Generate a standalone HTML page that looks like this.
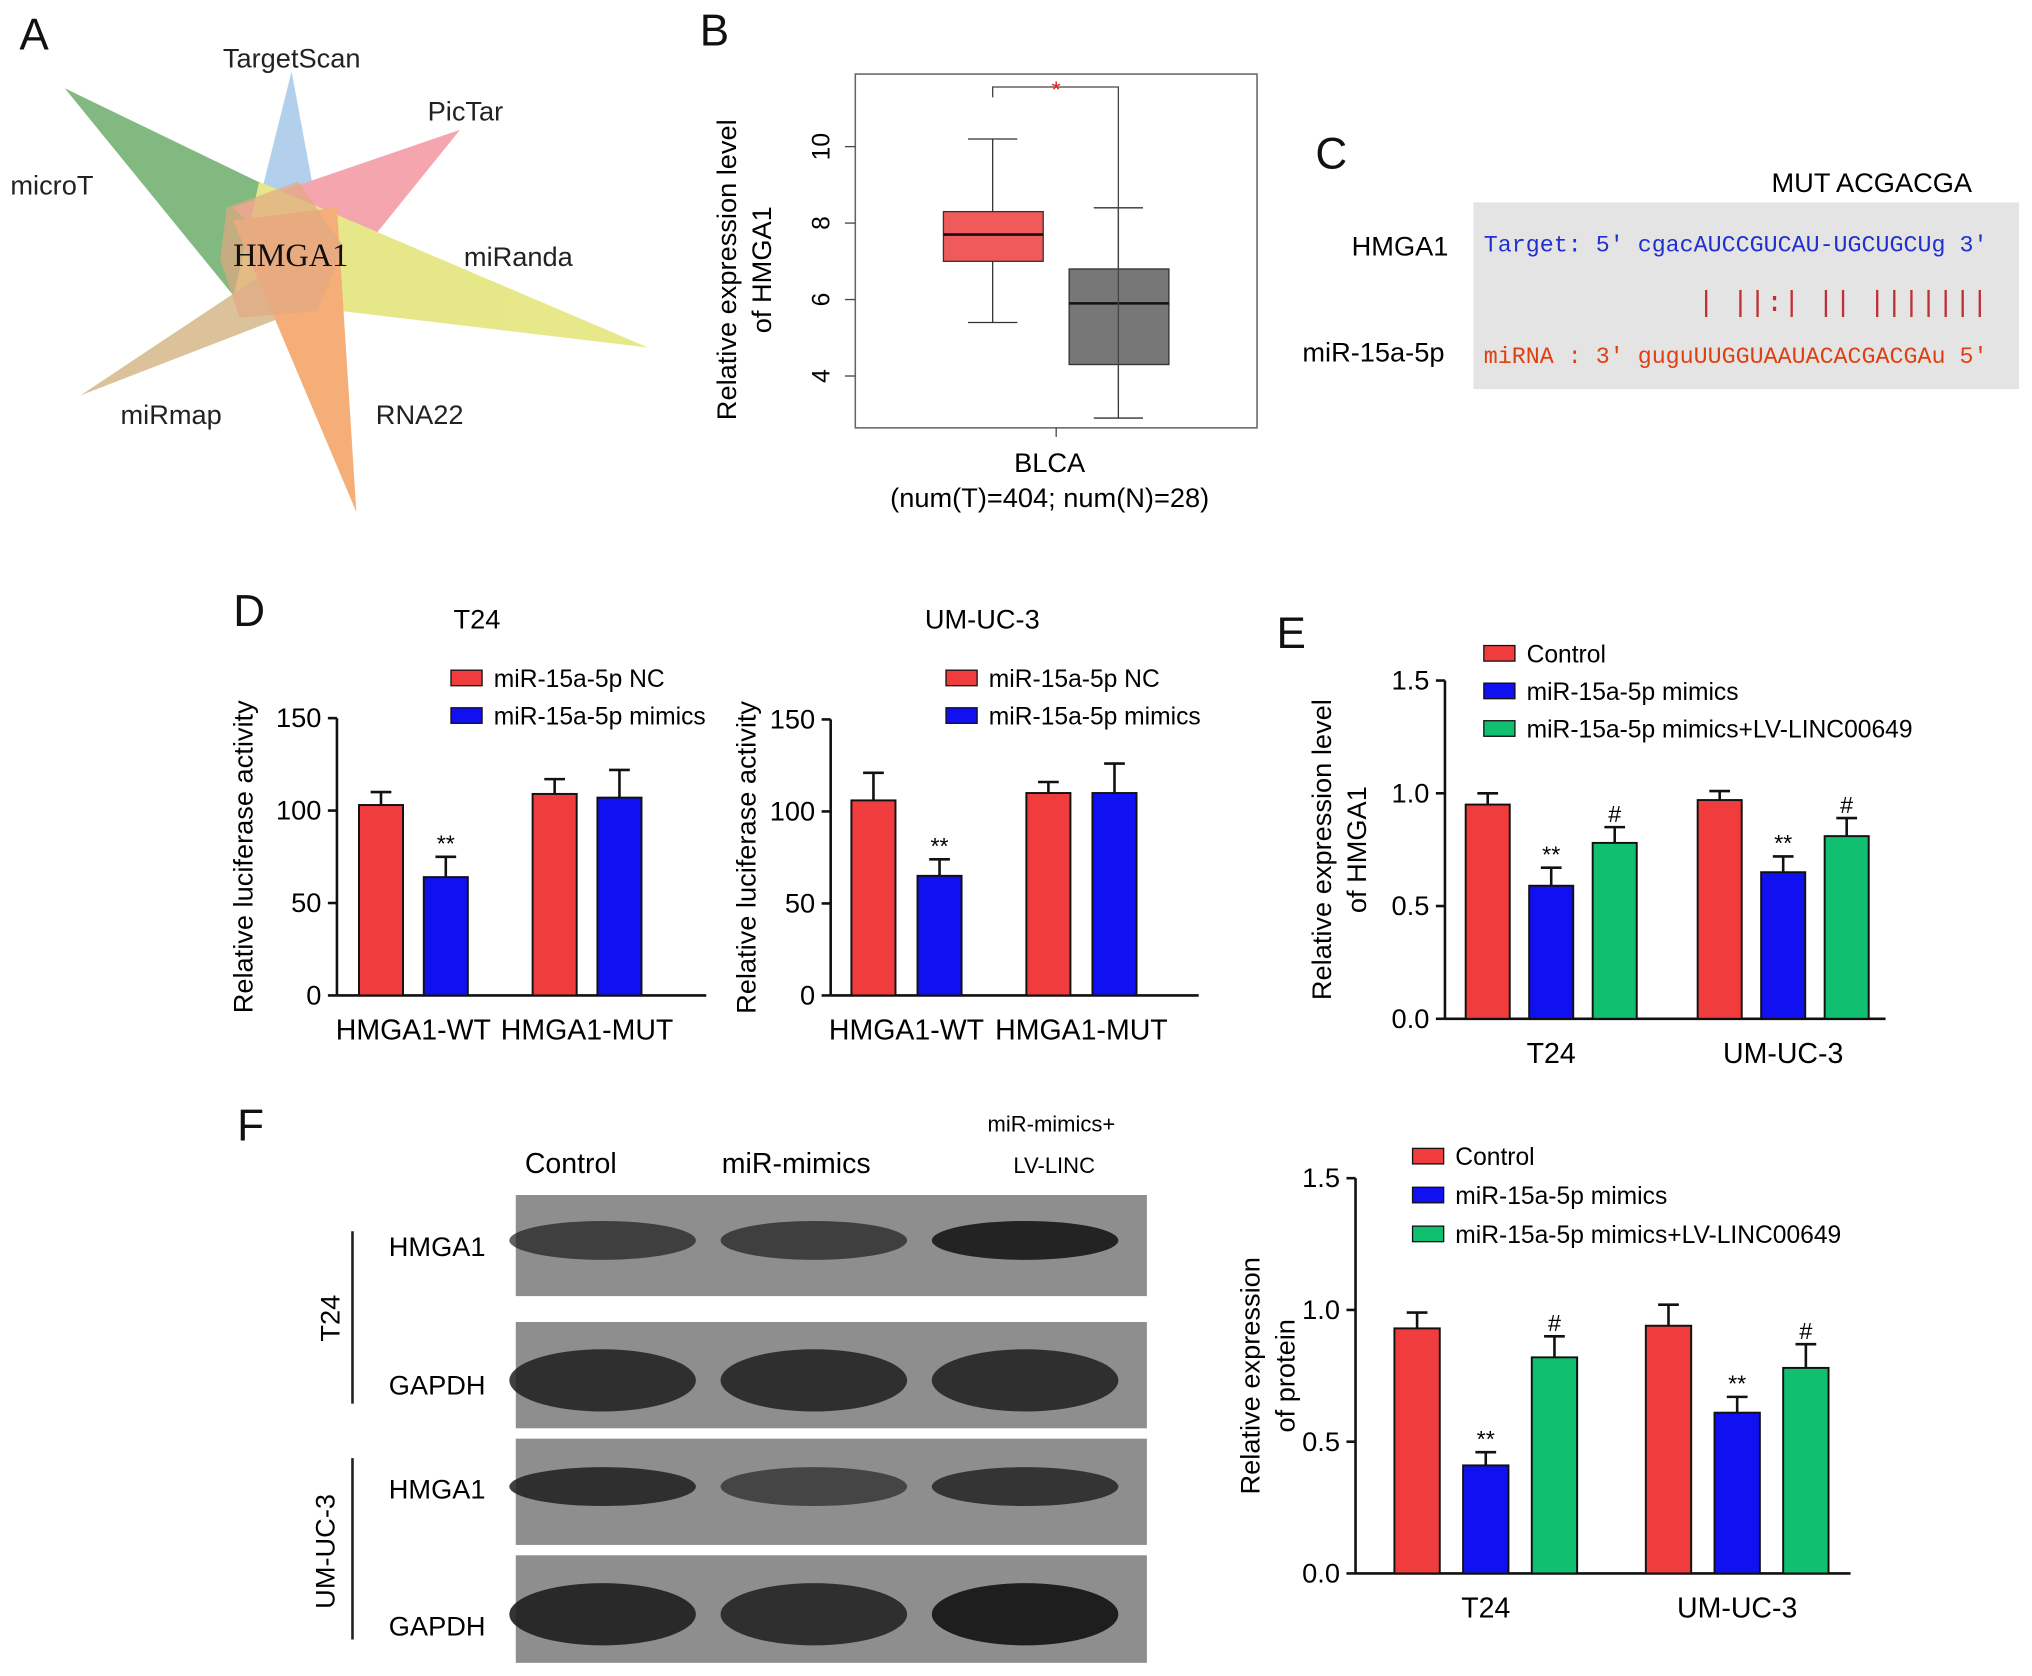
<!DOCTYPE html>
<html><head><meta charset="utf-8"><style>
html,body{margin:0;padding:0;background:#fff;}
svg{display:block;font-family:"Liberation Sans",sans-serif;}
</style></head><body>
<svg id="s" width="2032" height="1676" viewBox="0 0 1568 1293" xmlns="http://www.w3.org/2000/svg">
<rect width="1568" height="1293" fill="#fff"/>
<g font-size="34" fill="#111">
<text x="15" y="38">A</text>
<text x="540" y="35">B</text>
<text x="1015" y="130">C</text>
<text x="180" y="483">D</text>
<text x="985" y="500">E</text>
<text x="183" y="880">F</text>
</g>
<g opacity="0.6">
<polygon points="50,68 230,155 190,240" fill="#2e8b2e"/>
<polygon points="225,55 250,190 195,175" fill="#7fb2e0"/>
<polygon points="355,100 250,230 180,160" fill="#ee6a7a"/>
<polygon points="500,268 200,140 180,230" fill="#d7d83a"/>
<polygon points="62,305 250,180 230,240" fill="#c49a5a"/>
<polygon points="275,395 180,170 260,160" fill="#f07a1e"/>
<polygon points="175,160 230,140 265,190 245,240 185,245 170,200" fill="#d07030" opacity="0.7"/>
</g>
<g font-size="21" fill="#222">
<text x="172" y="52">TargetScan</text><text x="330" y="93">PicTar</text>
<text x="8" y="150">microT</text><text x="358" y="205">miRanda</text>
<text x="93" y="327">miRmap</text><text x="290" y="327">RNA22</text>
<text x="180" y="205" font-family="Liberation Serif,serif" font-size="25" fill="#111">HMGA1</text>
</g>
<g>
<rect x="660" y="57" width="310" height="273" fill="none" stroke="#666" stroke-width="1.2"/>
<g id="bbox"></g>
<text x="0" y="0" transform="translate(568,208) rotate(-90)" font-size="21" text-anchor="middle">Relative expression level</text>
<text x="0" y="0" transform="translate(595,208) rotate(-90)" font-size="21" text-anchor="middle">of HMGA1</text>
<text x="810" y="364" font-size="21" text-anchor="middle">BLCA</text>
<text x="810" y="391" font-size="21" text-anchor="middle">(num(T)=404; num(N)=28)</text>
<path d="M766,75 V67 H863 V310" fill="none" stroke="#444"/>
<text x="815" y="75" fill="#e02020" font-size="18" text-anchor="middle">*</text>
</g>
<g>
<text x="1367" y="148" font-size="21">MUT ACGACGA</text>
<rect x="1137" y="156" width="421" height="144" fill="#e4e4e4"/>
<text x="1043" y="197" font-size="21">HMGA1</text>
<text x="1005" y="279" font-size="21">miR-15a-5p</text>
<text x="1145" y="194" font-family="Liberation Mono,monospace" font-size="18" fill="#2030d0">Target: 5' cgacAUCCGUCAU-UGCUGCUg 3'</text>
<text x="1310" y="240" font-family="Liberation Mono,monospace" font-size="22" fill="#c03030">| ||:| || |||||||</text>
<text x="1145" y="280" font-family="Liberation Mono,monospace" font-size="18" fill="#e04010">miRNA : 3' guguUUGGUAAUACACGACGAu 5'</text>
</g>
<g id="charts"></g>
<g>
<text x="405" y="905" font-size="22">Control</text>
<text x="557" y="905" font-size="22">miR-mimics</text>
<text x="762" y="873" font-size="17">miR-mimics+</text>
<text x="782" y="905" font-size="17">LV-LINC</text>
<g id="blot"></g>
<line x1="272" y1="950" x2="272" y2="1083" stroke="#222" stroke-width="2"/>
<line x1="272" y1="1125" x2="272" y2="1265" stroke="#222" stroke-width="2"/>
<text transform="translate(262,1017) rotate(-90)" font-size="21" text-anchor="middle">T24</text>
<text transform="translate(258,1197) rotate(-90)" font-size="21" text-anchor="middle">UM-UC-3</text>
<g font-size="21"><text x="300" y="969">HMGA1</text><text x="300" y="1076">GAPDH</text><text x="300" y="1156">HMGA1</text><text x="300" y="1262">GAPDH</text></g>
</g>
</svg>
<script>
const NS='http://www.w3.org/2000/svg';
function el(p,t,a){const e=document.createElementNS(NS,t);for(const k in a)e.setAttribute(k,a[k]);p.appendChild(e);return e;}
const boxGroups=['Tumor','Normal'];
const boxStats=[[5.4,7.0,7.7,8.3,10.2],[2.9,4.3,5.9,6.8,8.4]];
const boxTicks=[4,6,8,10];
const bg=document.getElementById('bbox');
const by=v=>290-(v-4)*29.5;
boxTicks.forEach(t=>{const l=el(bg,'line',{x1:652,x2:660,y1:by(t),y2:by(t),stroke:'#444'});

el(bg,'text',{transform:`translate(640,${by(t)}) rotate(-90)`,'font-size':19,'text-anchor':'middle'}).textContent=t;});
const bcol=['#f05a5a','#777'];
boxStats.forEach((s,i)=>{const cx=766+i*97;
el(bg,'line',{x1:cx,x2:cx,y1:by(s[0]),y2:by(s[4]),stroke:'#333'});
el(bg,'line',{x1:cx-19,x2:cx+19,y1:by(s[0]),y2:by(s[0]),stroke:'#333'});
el(bg,'line',{x1:cx-19,x2:cx+19,y1:by(s[4]),y2:by(s[4]),stroke:'#333'});
const r=el(bg,'rect',{x:cx-38,y:by(s[3]),width:77,height:by(s[1])-by(s[3]),fill:bcol[i],stroke:'#333'});

el(bg,'line',{x1:cx-38,x2:cx+39,y1:by(s[2]),y2:by(s[2]),stroke:'#111','stroke-width':2});});
el(bg,'line',{x1:815,x2:815,y1:330,y2:337,stroke:'#444'});

const C=document.getElementById('charts');
function chart(o){
 const g=el(C,'g',{});
 const y=v=>o.y0-(v/o.max)*(o.y0-o.ytop);
 el(g,'line',{x1:o.ax,x2:o.ax,y1:o.y0,y2:o.ytop,stroke:'#111','stroke-width':2});
 el(g,'line',{x1:o.ax,x2:o.xend,y1:o.y0,y2:o.y0,stroke:'#111','stroke-width':2});
 o.ticks.forEach((t,i)=>{el(g,'line',{x1:o.ax-7,x2:o.ax,y1:y(t),y2:y(t),stroke:'#111','stroke-width':2});
  const tx=el(g,'text',{x:o.ax-12,y:y(t)+7,'font-size':21,'text-anchor':'end'});tx.textContent=o.tickLabels[i];});
 o.values.forEach((ser,si)=>ser.forEach((v,gi)=>{
  const x=o.x0+gi*o.gstep+si*o.sstep;
  const r=el(g,'rect',{x:x,y:y(v),width:o.bw,height:o.y0-y(v),fill:o.colors[si],stroke:'#111','stroke-width':1.5});
  
  
  const e=o.errs[si][gi];const cx=x+o.bw/2;
  el(g,'line',{x1:cx,x2:cx,y1:y(v),y2:y(e),stroke:'#111','stroke-width':2});
  el(g,'line',{x1:cx-8,x2:cx+8,y1:y(e),y2:y(e),stroke:'#111','stroke-width':2});
  const m=o.marks[si][gi];if(m){const t=el(g,'text',{x:cx,y:y(e)-4,'font-size':18,'text-anchor':'middle'});t.textContent=m;}
 }));
 o.cats.forEach((c,gi)=>{const t=el(g,'text',{x:o.x0+gi*o.gstep+(o.sstep*(o.series.length-1)+o.bw)/2,y:o.y0+34,'font-size':22,'text-anchor':'middle'});t.textContent=c;});
 const yt=el(g,'text',{transform:`translate(${o.ytx},${(o.y0+o.ytop)/2}) rotate(-90)`,'font-size':21,'text-anchor':'middle'});yt.textContent=o.ytitle[0];
 if(o.ytitle[1]){const y2=el(g,'text',{transform:`translate(${o.ytx+27},${(o.y0+o.ytop)/2}) rotate(-90)`,'font-size':21,'text-anchor':'middle'});y2.textContent=o.ytitle[1];}
 o.series.forEach((s,si)=>{const lx=o.lx,ly=o.ly+si*o.lstep;
  const r=el(g,'rect',{x:lx,y:ly-7,width:24,height:12,fill:o.colors[si],stroke:'#111'});
  
  const t=el(g,'text',{x:lx+33,y:ly+6,'font-size':19});t.textContent=s;});
 if(o.title){const t=el(g,'text',{x:o.tx,y:485,'font-size':21,'text-anchor':'middle'});t.textContent=o.title;}
}
const dCats=['HMGA1-WT','HMGA1-MUT'];
const dSeries=['miR-15a-5p NC','miR-15a-5p mimics'];
const dT24Vals=[[103,109],[64,107]];
const dT24Errs=[[110,117],[75,122]];
const dUMVals=[[106,110],[65,110]];
const dUMErrs=[[121,116],[74,126]];
const dTicks=[0,50,100,150];
const ratioTicks=[0,0.5,1.0,1.5];
const ratioLabels=['0.0','0.5','1.0','1.5'];
const eCats=['T24','UM-UC-3'];
const eSeries=['Control','miR-15a-5p mimics','miR-15a-5p mimics+LV-LINC00649'];
const eVals=[[0.95,0.97],[0.59,0.65],[0.78,0.81]];
const eErrs=[[1.0,1.01],[0.67,0.72],[0.85,0.89]];
const fVals=[[0.93,0.94],[0.41,0.61],[0.82,0.78]];
const fErrs=[[0.99,1.02],[0.46,0.67],[0.90,0.87]];
const sigMarks=[['',''],['**','**'],['#','#']];
const RB=['#f03c3c','#1010f0'],RBG=['#f03c3c','#1010f0','#10c070'];
chart({name:'chart-d-t24',ax:260,xend:545,y0:768,ytop:554,max:150,ticks:dTicks,tickLabels:dTicks,values:dT24Vals,errs:dT24Errs,marks:[['',''],['**','']],colors:RB,series:dSeries,cats:dCats,x0:277,gstep:134,sstep:50,bw:34,ytx:195,ytitle:['Relative luciferase activity'],lx:348,ly:524,lstep:29,title:'T24',tx:368});
chart({name:'chart-d-umuc3',ax:641,xend:925,y0:768,ytop:555,max:150,ticks:dTicks,tickLabels:dTicks,values:dUMVals,errs:dUMErrs,marks:[['',''],['**','']],colors:RB,series:dSeries,cats:dCats,x0:657,gstep:135,sstep:51,bw:34,ytx:583,ytitle:['Relative luciferase activity'],lx:730,ly:524,lstep:29,title:'UM-UC-3',tx:758});
chart({name:'chart-e',ax:1115,xend:1455,y0:786,ytop:525,max:1.5,ticks:ratioTicks,tickLabels:ratioLabels,values:eVals,errs:eErrs,marks:sigMarks,colors:RBG,series:eSeries,cats:eCats,x0:1131,gstep:179,sstep:49,bw:34,ytx:1027,ytitle:['Relative expression level','of HMGA1'],lx:1145,ly:505,lstep:29});
chart({name:'chart-f',ax:1046,xend:1428,y0:1214,ytop:909,max:1.5,ticks:ratioTicks,tickLabels:ratioLabels,values:fVals,errs:fErrs,marks:sigMarks,colors:RBG,series:eSeries,cats:eCats,x0:1076,gstep:194,sstep:53,bw:35,ytx:972,ytitle:['Relative expression','of protein'],lx:1090,ly:893,lstep:30});

const blotRows=[[922,1000],[1020,1102],[1110,1192],[1200,1283]];
const bandIntensity=[[0.7,0.7,0.95],[0.85,0.85,0.85],[0.85,0.65,0.8],[0.9,0.85,1.0]];
const B=document.getElementById('blot');
blotRows.forEach((r,ri)=>{el(B,'rect',{x:398,y:r[0],width:487,height:r[1]-r[0],fill:'#8e8e8e'});
 bandIntensity[ri].forEach((a,ci)=>{const e=el(B,'ellipse',{cx:465+ci*163,cy:(r[0]+r[1])/2+(ri%2?4:-4),rx:72,ry:ri%2?24:15,fill:'#1e1e1e','fill-opacity':a});
 });});
</script>
</body></html>
